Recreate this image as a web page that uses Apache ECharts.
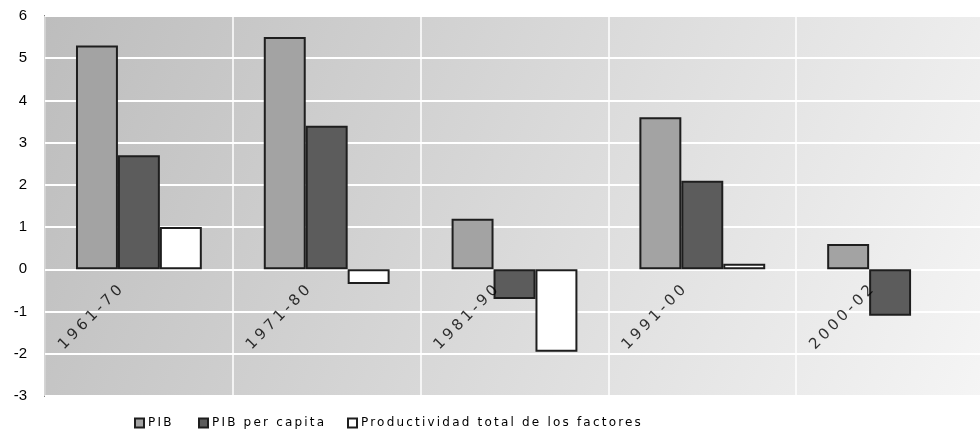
<!DOCTYPE html>
<html>
<head>
<meta charset="utf-8">
<script src="https://cdn.jsdelivr.net/npm/echarts@6/dist/echarts.min.js"></script>
<style>
  html, body { margin: 0; padding: 0; background: #ffffff; }
  #chart { width: 980px; height: 432px; }
</style>
</head>
<body>
<div id="chart"></div>
<script>
// Periods on the category axis
var periods = ['1961-70', '1971-80', '1981-90', '1991-00', '2000-02'];

// Average annual growth rates (%)
var pib = [5.3, 5.5, 1.2, 3.6, 0.6];
var pibPerCapita = [2.7, 3.4, -0.7, 2.1, -1.1];
var productividad = [1.0, -0.35, -1.95, 0.13, null];

// Value axis ticks
var yMin = -3, yMax = 6, yStep = 1;

var seriesNames = ['PIB', 'PIB per capita', 'Productividad total de los factores'];
var seriesColors = ['#a3a3a3', '#5c5c5c', '#ffffff'];
var seriesData = [pib, pibPerCapita, productividad];

// Wide letter spacing for the DejaVu label fonts (keyed by font size),
// applied whenever a canvas context switches font so measuring and drawing agree.
var spacingBySize = { '12': '2.2px', '15': '3.5px' };
(function () {
  var proto = CanvasRenderingContext2D.prototype;
  var desc = Object.getOwnPropertyDescriptor(proto, 'font');
  if (!desc || !('letterSpacing' in proto)) return;
  Object.defineProperty(proto, 'font', {
    configurable: true,
    get: function () { return desc.get.call(this); },
    set: function (v) {
      desc.set.call(this, v);
      var m = /(\d+)px/.exec(v);
      this.letterSpacing = (m && /DejaVu/.test(v) && spacingBySize[m[1]]) || '0px';
    }
  });
})();

var chart = echarts.init(document.getElementById('chart'), null, { renderer: 'canvas' });

var legendLefts = [134, 198, 347];

var barSeries = seriesData.map(function (d, i) {
  return {
    name: seriesNames[i],
    type: 'bar',
    data: d,
    barGap: '0%',
    barCategoryGap: '33%',
    itemStyle: { color: seriesColors[i], borderColor: '#1e1e1e', borderWidth: 2 }
  };
});

// Period names sit on the zero line, slanted, drawn above the bars
var periodLabels = {
  name: 'periodos',
  type: 'scatter',
  silent: true,
  z: 10,
  symbolSize: 0,
  data: periods.map(function (p) { return { name: p, value: [p, 0] }; }),
  label: {
    show: true,
    formatter: '{b}',
    position: 'inside',
    rotate: 45,
    align: 'right',
    verticalAlign: 'middle',
    padding: [25, 23, 0, 0],
    fontFamily: 'DejaVu Sans, sans-serif',
    fontSize: 15,
    color: '#000'
  },
  labelLayout: { hideOverlap: false }
};

chart.setOption({
  animation: false,
  backgroundColor: '#ffffff',
  grid: {
    left: 45, top: 16, right: -4, bottom: 36,
    outerBoundsMode: 'none',
    containLabel: false,
    show: true,
    borderColor: '#222222',
    borderWidth: 1.5,
    backgroundColor: new echarts.graphic.LinearGradient(0, 0, 1, 1, [
      { offset: 0, color: '#bdbdbd' },
      { offset: 1, color: '#f5f5f5' }
    ])
  },
  legend: seriesNames.map(function (name, i) {
    return {
      left: legendLefts[i], top: 416,
      padding: 0,
      itemWidth: 9, itemHeight: 9, itemGap: 0,
      icon: 'rect',
      textStyle: { fontFamily: 'DejaVu Sans, sans-serif', fontSize: 12, color: '#000', padding: [0, 0, 0, -1] },
      data: [name]
    };
  }),
  xAxis: {
    type: 'category',
    data: periods,
    axisLine: { show: false },
    axisTick: { show: false },
    axisLabel: { show: false },
    splitLine: { show: true, interval: 0, lineStyle: { color: '#ffffff', width: 1.5 } }
  },
  yAxis: {
    type: 'value',
    min: yMin, max: yMax, interval: yStep,
    axisLine: { show: false },
    axisTick: { show: false },
    splitLine: { show: true, lineStyle: { color: '#ffffff', width: 2 } },
    axisLabel: { margin: 18, fontFamily: 'Liberation Sans, Arial, sans-serif', fontSize: 15, color: '#000' }
  },
  series: barSeries.concat([periodLabels])
});
</script>
</body>
</html>
